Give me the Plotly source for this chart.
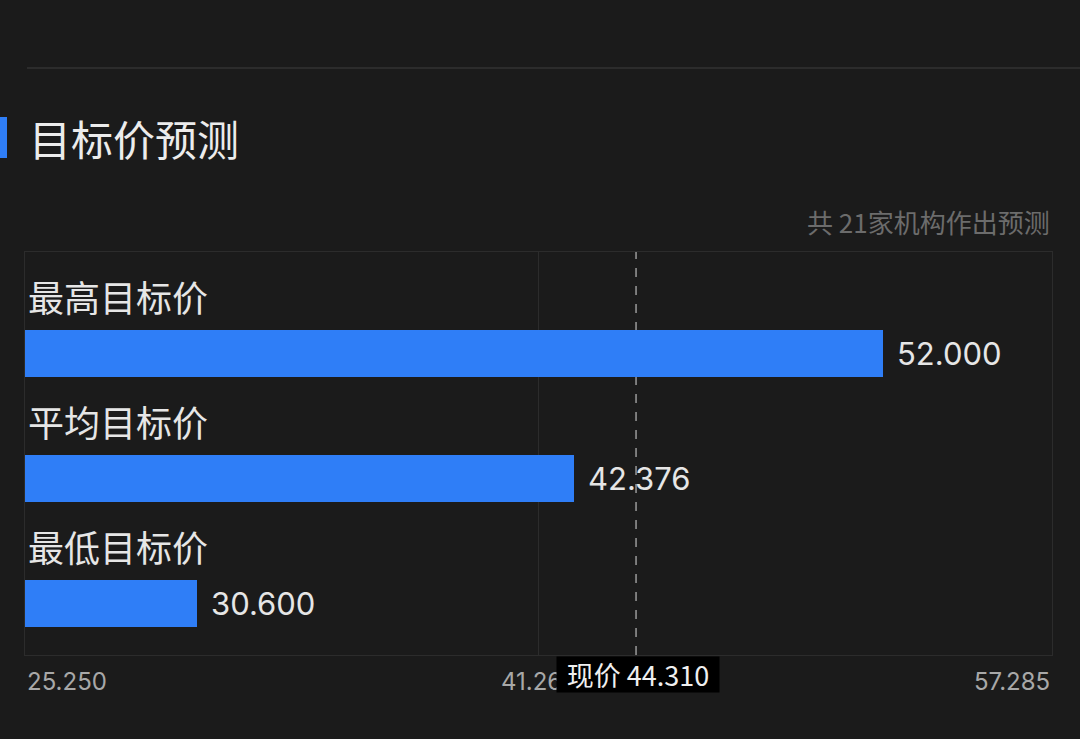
import plotly.graph_objects as go

# data
categories = ["最高目标价", "平均目标价", "最低目标价"]
target_prices = [52.000, 42.376, 30.600]
axis_ticks = [25.250, 41.267, 57.285]
current_price = 44.310
institutions = 21

W, H = 1080, 739
BG = "#1b1b1b"
BLUE = "#2f7ef7"
GRID = "#2c2c2c"
FONT = "Inter, Noto Sans CJK SC, sans-serif"
CJK = "Noto Sans CJK SC, sans-serif"


def px_x(p):
    return p / W


def px_y(p):
    return 1 - p / H


fig = go.Figure()
fig.add_trace(go.Bar(
    x=target_prices,
    y=categories,
    orientation="h",
    width=0.376,
    marker=dict(color=BLUE, line=dict(width=0)),
    hoverinfo="skip",
))

# category labels above each bar
for cat in categories:
    fig.add_annotation(x=px_x(26), xref="paper", y=cat, yref="y", yshift=58,
                       text=cat, showarrow=False, xanchor="left", yanchor="middle",
                       font=dict(family=CJK, size=36, color="#e6e6e6"))

# value labels to the right of bars
for cat, v in zip(categories, target_prices):
    fig.add_annotation(x=v, xref="x", y=cat, yref="y", xshift=12,
                       text=f"{v:.3f}", showarrow=False, xanchor="left", yanchor="middle",
                       font=dict(family=FONT, size=31, color="#e6e6e6"))

# x tick labels: left, middle, right
anchors = ["left", "center", "right"]
for t, a in zip(axis_ticks, anchors):
    fig.add_annotation(x=t, xref="x", y=px_y(681), yref="paper",
                       text=f"{t:.3f}", showarrow=False, xanchor=a, yanchor="middle",
                       font=dict(family=FONT, size=24, color="#a8a8a8"))

# current price marker
fig.add_shape(type="line", x0=current_price, x1=current_price, xref="x",
              y0=px_y(655), y1=px_y(252), yref="paper", layer="below",
              line=dict(color="#9a9a9a", width=1.5, dash="dash"))
fig.add_annotation(x=current_price, xref="x", xshift=2, y=px_y(674.5), yref="paper",
                   text=f"现价 {current_price:.3f}", showarrow=False,
                   xanchor="center", yanchor="middle", width=158, height=31,
                   bgcolor="#000000", borderpad=2,
                   font=dict(family=CJK, size=27, color="#f0f0f0"))

# header
fig.add_shape(type="line", xref="paper", yref="paper", x0=px_x(27), x1=1,
              y0=px_y(68), y1=px_y(68), line=dict(color=GRID, width=2))
fig.add_shape(type="rect", xref="paper", yref="paper", x0=0, x1=px_x(7),
              y0=px_y(158), y1=px_y(117), line=dict(width=0), fillcolor=BLUE)
fig.add_annotation(x=px_x(27), xref="paper", y=px_y(137), yref="paper",
                   text="目标价预测", showarrow=False, xanchor="left", yanchor="middle",
                   font=dict(family=CJK, size=42, color="#ececec"))
fig.add_annotation(x=px_x(1052), xref="paper", y=px_y(221), yref="paper",
                   text=f"共 {institutions}家机构作出预测", showarrow=False,
                   xanchor="right", yanchor="middle",
                   font=dict(family=CJK, size=26, color="#6c6c6c"))

fig.update_layout(
    width=W, height=H,
    margin=dict(l=0, r=0, t=0, b=0),
    paper_bgcolor=BG, plot_bgcolor=BG,
    showlegend=False,
    bargap=0,
    xaxis=dict(domain=[px_x(25), px_x(1052)], range=[axis_ticks[0], axis_ticks[-1]],
               tickvals=[axis_ticks[1]], showticklabels=False, ticks="",
               showgrid=True, gridcolor=GRID, gridwidth=1, zeroline=False,
               showline=True, mirror=True, linecolor=GRID, linewidth=1),
    yaxis=dict(domain=[px_y(655), px_y(252)], type="category",
               categoryorder="array", categoryarray=categories,
               range=[2.412, -0.812], showticklabels=False, ticks="",
               showgrid=False, zeroline=False,
               showline=True, mirror=True, linecolor=GRID, linewidth=1),
)

fig.write_html("out.html", config={"displayModeBar": False},
               post_script="document.body.style.margin='0';")
